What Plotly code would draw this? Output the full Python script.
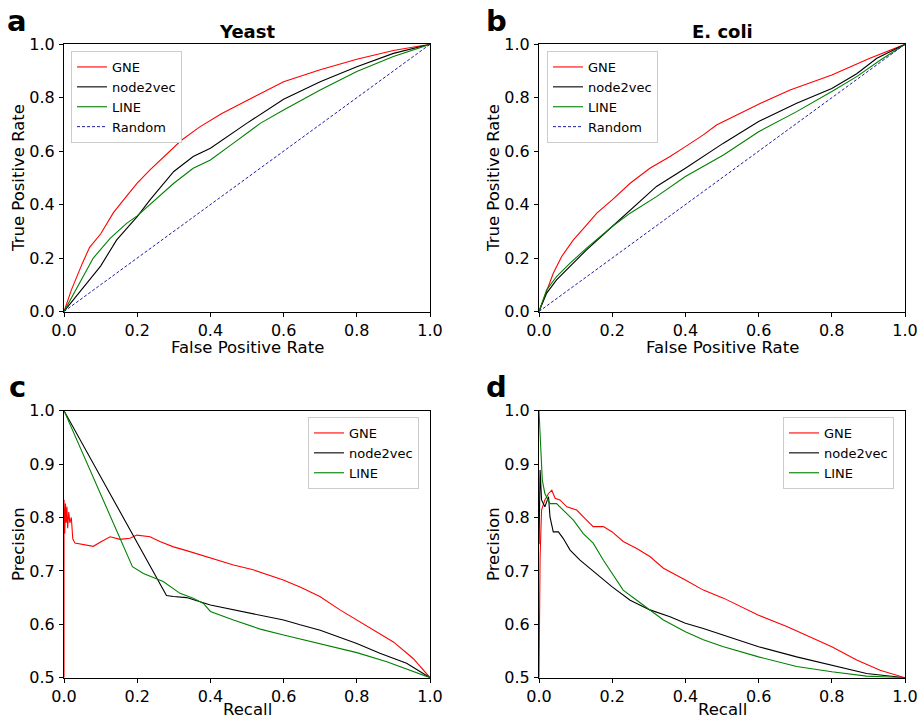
import plotly.graph_objects as go

W, H = 920, 718

# ---------------- data ----------------
# Panel a: Yeast ROC
yeast_gne_fpr = [0, 0.02, 0.05, 0.07, 0.1, 0.135, 0.17, 0.2, 0.235, 0.28, 0.32, 0.37, 0.43, 0.5, 0.6, 0.7, 0.8, 0.9, 1.0]
yeast_gne_tpr = [0, 0.08, 0.18, 0.24, 0.29, 0.37, 0.43, 0.48, 0.53, 0.59, 0.64, 0.69, 0.74, 0.79, 0.86, 0.905, 0.944, 0.977, 1.0]
yeast_n2v_fpr = [0, 0.05, 0.1, 0.144, 0.2, 0.235, 0.281, 0.3, 0.353, 0.4, 0.5, 0.6, 0.7, 0.8, 0.9, 1.0]
yeast_n2v_tpr = [0, 0.085, 0.17, 0.268, 0.355, 0.418, 0.493, 0.524, 0.58, 0.611, 0.705, 0.794, 0.86, 0.916, 0.966, 1.0]
yeast_line_fpr = [0, 0.02, 0.05, 0.08, 0.126, 0.171, 0.2, 0.244, 0.3, 0.353, 0.4, 0.463, 0.536, 0.6, 0.7, 0.8, 0.9, 1.0]
yeast_line_tpr = [0, 0.05, 0.13, 0.2, 0.274, 0.33, 0.358, 0.411, 0.48, 0.536, 0.567, 0.63, 0.704, 0.754, 0.829, 0.898, 0.954, 1.0]

# Panel b: E. coli ROC
ecoli_gne_fpr = [0, 0.021, 0.039, 0.062, 0.094, 0.126, 0.158, 0.2, 0.249, 0.303, 0.358, 0.4, 0.449, 0.485, 0.54, 0.6, 0.686, 0.8, 0.904, 1.0]
ecoli_gne_tpr = [0, 0.081, 0.143, 0.206, 0.268, 0.318, 0.368, 0.418, 0.48, 0.536, 0.58, 0.617, 0.661, 0.698, 0.736, 0.776, 0.829, 0.885, 0.948, 1.0]
ecoli_n2v_fpr = [0, 0.021, 0.048, 0.085, 0.13, 0.2, 0.249, 0.321, 0.4, 0.504, 0.6, 0.704, 0.8, 0.868, 0.923, 1.0]
ecoli_n2v_tpr = [0, 0.069, 0.118, 0.168, 0.231, 0.318, 0.38, 0.468, 0.536, 0.63, 0.711, 0.779, 0.835, 0.89, 0.948, 1.0]
ecoli_line_fpr = [0, 0.021, 0.048, 0.085, 0.13, 0.2, 0.249, 0.321, 0.4, 0.504, 0.6, 0.704, 0.8, 0.868, 0.932, 1.0]
ecoli_line_tpr = [0, 0.081, 0.131, 0.181, 0.237, 0.318, 0.368, 0.43, 0.505, 0.586, 0.673, 0.748, 0.823, 0.879, 0.94, 1.0]

random_x = [0, 1]
random_y = [0, 1]

# Panel c: Yeast PR
yeast_gne_rec = [0, 0, 0.002, 0.004, 0.006, 0.008, 0.01, 0.013, 0.016, 0.02, 0.024, 0.03, 0.05, 0.08, 0.1, 0.126, 0.153, 0.18, 0.199, 0.235, 0.262, 0.299, 0.335, 0.4, 0.463, 0.517, 0.599, 0.645, 0.699, 0.754, 0.8, 0.854, 0.9, 0.954, 1.0]
yeast_gne_prec = [0.5, 0.833, 0.77, 0.826, 0.79, 0.82, 0.78, 0.81, 0.79, 0.80, 0.76, 0.752, 0.75, 0.746, 0.754, 0.764, 0.759, 0.761, 0.767, 0.764, 0.755, 0.745, 0.738, 0.725, 0.711, 0.702, 0.683, 0.67, 0.652, 0.627, 0.608, 0.586, 0.567, 0.536, 0.5]
yeast_n2v_rec = [0, 0.28, 0.299, 0.335, 0.4, 0.463, 0.517, 0.6, 0.645, 0.7, 0.8, 0.863, 0.936, 1.0]
yeast_n2v_prec = [1.0, 0.654, 0.652, 0.65, 0.636, 0.627, 0.62, 0.608, 0.599, 0.589, 0.564, 0.546, 0.527, 0.5]
yeast_line_rec = [0, 0.187, 0.217, 0.271, 0.317, 0.353, 0.381, 0.4, 0.463, 0.536, 0.6, 0.7, 0.8, 0.882, 1.0]
yeast_line_prec = [1.0, 0.708, 0.695, 0.68, 0.658, 0.649, 0.639, 0.624, 0.608, 0.591, 0.58, 0.564, 0.547, 0.53, 0.5]

# Panel d: E. coli PR
ecoli_gne_rec = [0, 0.003, 0.007, 0.016, 0.026, 0.035, 0.044, 0.057, 0.076, 0.103, 0.126, 0.148, 0.176, 0.2, 0.23, 0.267, 0.303, 0.34, 0.4, 0.449, 0.504, 0.6, 0.677, 0.8, 0.868, 0.932, 1.0]
ecoli_gne_prec = [0.5, 0.727, 0.814, 0.833, 0.845, 0.851, 0.836, 0.833, 0.82, 0.814, 0.798, 0.783, 0.783, 0.773, 0.755, 0.742, 0.727, 0.705, 0.683, 0.664, 0.649, 0.617, 0.596, 0.558, 0.533, 0.514, 0.5]
ecoli_n2v_rec = [0, 0.003, 0.007, 0.016, 0.026, 0.03, 0.039, 0.053, 0.066, 0.085, 0.112, 0.148, 0.2, 0.249, 0.303, 0.358, 0.4, 0.449, 0.504, 0.6, 0.704, 0.8, 0.895, 1.0]
ecoli_n2v_prec = [0.75, 0.889, 0.833, 0.82, 0.839, 0.801, 0.773, 0.773, 0.761, 0.739, 0.72, 0.699, 0.67, 0.645, 0.627, 0.614, 0.602, 0.592, 0.58, 0.558, 0.539, 0.524, 0.508, 0.5]
ecoli_line_rec = [0, 0.005, 0.009, 0.016, 0.03, 0.048, 0.066, 0.094, 0.121, 0.148, 0.176, 0.2, 0.23, 0.267, 0.303, 0.34, 0.4, 0.449, 0.504, 0.6, 0.704, 0.8, 0.895, 1.0]
ecoli_line_prec = [1.0, 0.914, 0.87, 0.845, 0.826, 0.826, 0.814, 0.795, 0.77, 0.752, 0.72, 0.695, 0.664, 0.645, 0.627, 0.608, 0.586, 0.571, 0.558, 0.539, 0.521, 0.511, 0.503, 0.5]

roc_ticks = [0.0, 0.2, 0.4, 0.6, 0.8, 1.0]
pr_yticks = [0.5, 0.6, 0.7, 0.8, 0.9, 1.0]
panel_letters = ["a", "b", "c", "d"]
panel_titles = ["Yeast", "E. coli"]
method_names = ["GNE", "node2vec", "LINE", "Random"]

# ---------------- layout helpers ----------------
FONT = "DejaVu Sans"
RED, BLACK, GREEN, BLUE = "#ff0000", "#000000", "#008000", "#1a1aa6"

def px(x, y):
    """screen pixel -> paper fraction"""
    return x / W, 1 - y / H

def xdom(a, b):
    return [px(a, 0)[0], px(b, 0)[0]]

def ydom(top, bottom):
    return [px(0, bottom)[1], px(0, top)[1]]

xdom_l = xdom(64, 430)
xdom_r = xdom(539, 905)
ydom_t = ydom(44.3, 311.5)
ydom_b = ydom(410.7, 677.7)

fig = go.Figure()

def add(x, y, name, color, xa, ya, legend, dash="solid", width=1.1):
    fig.add_trace(go.Scatter(x=x, y=y, mode="lines", name=name,
                             line=dict(color=color, width=width, dash=dash),
                             xaxis=xa, yaxis=ya, legend=legend))

add(yeast_gne_fpr, yeast_gne_tpr, method_names[0], RED, "x", "y", "legend")
add(yeast_n2v_fpr, yeast_n2v_tpr, method_names[1], BLACK, "x", "y", "legend")
add(yeast_line_fpr, yeast_line_tpr, method_names[2], GREEN, "x", "y", "legend")
add(random_x, random_y, method_names[3], BLUE, "x", "y", "legend", dash="3px,2px", width=1.0)

add(ecoli_gne_fpr, ecoli_gne_tpr, method_names[0], RED, "x2", "y2", "legend2")
add(ecoli_n2v_fpr, ecoli_n2v_tpr, method_names[1], BLACK, "x2", "y2", "legend2")
add(ecoli_line_fpr, ecoli_line_tpr, method_names[2], GREEN, "x2", "y2", "legend2")
add(random_x, random_y, method_names[3], BLUE, "x2", "y2", "legend2", dash="3px,2px", width=1.0)

add(yeast_gne_rec, yeast_gne_prec, method_names[0], RED, "x3", "y3", "legend3")
add(yeast_n2v_rec, yeast_n2v_prec, method_names[1], BLACK, "x3", "y3", "legend3")
add(yeast_line_rec, yeast_line_prec, method_names[2], GREEN, "x3", "y3", "legend3")

add(ecoli_gne_rec, ecoli_gne_prec, method_names[0], RED, "x4", "y4", "legend4")
add(ecoli_n2v_rec, ecoli_n2v_prec, method_names[1], BLACK, "x4", "y4", "legend4")
add(ecoli_line_rec, ecoli_line_prec, method_names[2], GREEN, "x4", "y4", "legend4")

axis_common = dict(showline=True, linecolor="black", linewidth=1, mirror=True,
                   ticks="outside", ticklen=4, tickwidth=1, tickcolor="black",
                   showgrid=False, zeroline=False, automargin=False,
                   tickfont=dict(family=FONT, size=16, color="black"),
                   tickformat=".1f")

def xaxis(dom, anchor):
    return dict(axis_common, domain=dom, anchor=anchor, range=[0, 1], tickvals=roc_ticks)

def yaxis(dom, anchor, rng, ticks):
    return dict(axis_common, domain=dom, anchor=anchor, range=rng, tickvals=ticks, ticklabelstandoff=1)

leg_common = dict(bgcolor="white", bordercolor="#cccccc", borderwidth=1,
                  font=dict(family=FONT, size=13, color="black"),
                  xanchor="left", yanchor="top", xref="paper", yref="paper",
                  itemwidth=30, tracegroupgap=0)

def leg(x, y):
    lx, ly = px(x, y)
    return dict(leg_common, x=lx, y=ly)

annotations = []
def text(x, y, s, size, bold=False, angle=0):
    ax, ay = px(x, y)
    annotations.append(dict(x=ax, y=ay, xref="paper", yref="paper", text=(f"<b>{s}</b>" if bold else s),
                            showarrow=False, xanchor="center", yanchor="middle", textangle=angle,
                            font=dict(family=FONT, size=size, color="black")))

# panel letters
text(17, 21, panel_letters[0], 29, bold=True)
text(496, 21, panel_letters[1], 29, bold=True)
text(17, 387, panel_letters[2], 29, bold=True)
text(496, 387, panel_letters[3], 29, bold=True)
# titles
text(247, 32, panel_titles[0], 18, bold=True)
text(722, 32, panel_titles[1], 18, bold=True)
# axis titles
text(247, 347, "False Positive Rate", 16.5)
text(722, 347, "False Positive Rate", 16.5)
text(247, 709, "Recall", 16.5)
text(722, 709, "Recall", 16.5)
text(18, 178, "True Positive Rate", 16.5, angle=-90)
text(493, 178, "True Positive Rate", 16.5, angle=-90)
text(18, 544, "Precision", 16.5, angle=-90)
text(493, 544, "Precision", 16.5, angle=-90)

fig.update_layout(
    width=W, height=H,
    margin=dict(l=0, r=0, t=0, b=0, pad=0, autoexpand=False),
    paper_bgcolor="white", plot_bgcolor="white",
    font=dict(family=FONT, color="black"),
    xaxis=xaxis(xdom_l, "y"), yaxis=yaxis(ydom_t, "x", [0, 1], roc_ticks),
    xaxis2=xaxis(xdom_r, "y2"), yaxis2=yaxis(ydom_t, "x2", [0, 1], roc_ticks),
    xaxis3=xaxis(xdom_l, "y3"), yaxis3=yaxis(ydom_b, "x3", [0.5, 1], pr_yticks),
    xaxis4=xaxis(xdom_r, "y4"), yaxis4=yaxis(ydom_b, "x4", [0.5, 1], pr_yticks),
    legend=leg(71, 51), legend2=leg(547, 51), legend3=leg(308, 417), legend4=leg(783, 417),
    annotations=annotations,
    showlegend=True,
)

# place the figure flush with the window's top-left corner
fig.write_html("out.html", config={"displayModeBar": False},
               post_script="document.body.style.margin='0';document.body.style.overflow='hidden';")
